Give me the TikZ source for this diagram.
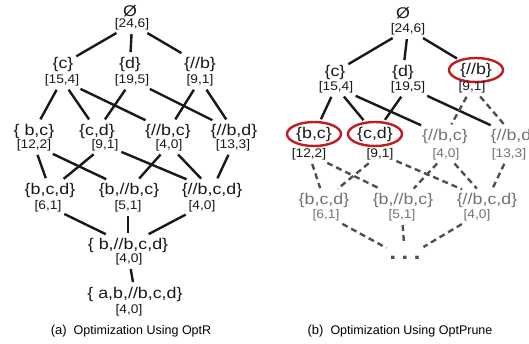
\documentclass[tikz,border=0pt]{standalone}
\usepackage{fontspec}
\setmainfont{Liberation Sans}
\newfontfamily\setfont[FakeStretch=1.15]{Liberation Sans}
\newfontfamily\cntfont[FakeStretch=1.1]{Liberation Sans}
\usetikzlibrary{shapes.geometric}
\definecolor{keepred}{RGB}{190,30,35}
\definecolor{linegray}{RGB}{80,80,80}
\definecolor{prunegray}{RGB}{115,115,115}
\definecolor{ink}{RGB}{25,25,25}

\begin{document}
\begin{tikzpicture}[x=1pt, y=-1pt,
    set/.style = {inner xsep=1pt, inner ysep=2.5pt, text=ink, font=\setfont\fontsize{15.5}{15.5}\selectfont},
    cnt/.style = {inner xsep=1pt, inner ysep=2pt, text=ink, font=\cntfont\fontsize{12.5}{12.5}\selectfont},
    pruned/.style = {text=prunegray},
    kept/.style = {ellipse, draw=keepred, line width=2.4pt, inner sep=0pt, minimum width=54pt, minimum height=24pt},
    edge/.style = {draw=ink, line width=2.4pt, shorten <=2pt, shorten >=2pt},
    cut/.style = {edge, draw=linegray, dash pattern=on 6pt off 4pt}]
    \useasboundingbox (0,0) rectangle (529,343);

    % (a) OptR
    \node[set] (e) at (130,11) {Ø};
    \node[cnt] (en) at (132,24) {[24,6]};
    \node[set] (c) at (63,64) {\{c\}};
    \node[cnt] (cn) at (62,80) {[15,4]};
    \node[set] (d) at (130,64) {\{d\}};
    \node[cnt] (dn) at (132,80) {[19,5]};
    \node[set] (B) at (200,64) {\{//b\}};
    \node[cnt] (Bn) at (200,80) {[9,1]};
    \node[set] (bc) at (34,131) {\{ b,c\}};
    \node[cnt] (bcn) at (34,145) {[12,2]};
    \node[set] (cd) at (97,131) {\{c,d\}};
    \node[cnt] (cdn) at (105,145) {[9,1]};
    \node[set] (Bc) at (168,131) {\{//b,c\}};
    \node[cnt] (Bcn) at (169,145) {[4,0]};
    \node[set] (Bd) at (234,131) {\{//b,d\}};
    \node[cnt] (Bdn) at (233,145) {[13,3]};
    \node[set] (bcd) at (50,190) {\{b,c,d\}};
    \node[cnt] (bcdn) at (48,206) {[6,1]};
    \node[set] (bBc) at (129,190) {\{b,//b,c\}};
    \node[cnt] (bBcn) at (128,206) {[5,1]};
    \node[set] (Bcd) at (212,190) {\{//b,c,d\}};
    \node[cnt] (Bcdn) at (202,206) {[4,0]};
    \node[set] (bBcd) at (128,245) {\{ b,//b,c,d\}};
    \node[cnt] (bBcdn) at (129,259) {[4,0]};
    \node[set] (abBcd) at (135,294) {\{ a,b,//b,c,d\}};
    \node[cnt] (abBcdn) at (129,310) {[4,0]};
    \node (capa) at (131,331) {\fontsize{13}{13}\selectfont(a)\hspace{7pt}\fontsize{12.5}{12.5}\selectfont Optimization Using OptR};

    \draw[edge] (en) -- (c);
    \draw[edge] (en) -- (d);
    \draw[edge] (en) -- (B);
    \draw[edge] (cn) -- (bc);
    \draw[edge] (cn) -- (cd);
    \draw[edge] (cn) -- (Bc);
    \draw[edge] (dn) -- (cd);
    \draw[edge] (dn) -- (Bd);
    \draw[edge] (Bn) -- (Bc);
    \draw[edge] (Bn) -- (Bd);
    \draw[edge] (bcn) -- (bcd);
    \draw[edge] (bcn) -- (bBc);
    \draw[edge] (cdn) -- (bcd);
    \draw[edge] (cdn) -- (Bcd);
    \draw[edge] (Bcn) -- (bBc);
    \draw[edge] (Bcn) -- (Bcd);
    \draw[edge] (Bdn) -- (Bcd);
    \draw[edge] (bcdn) -- (bBcd);
    \draw[edge] (bBcn) -- (bBcd);
    \draw[edge] (Bcdn) -- (bBcd);
    \draw[edge] (bBcdn) -- (abBcd);

    % (b) OptPrune
    \node[set] (re) at (403,13) {Ø};
    \node[cnt] (ren) at (408,29) {[24,6]};
    \node[set] (rc) at (335,72) {\{c\}};
    \node[cnt] (rcn) at (336,87) {[15,4]};
    \node[set] (rd) at (403,72) {\{d\}};
    \node[cnt] (rdn) at (408,87) {[19,5]};
    \node[set, kept] (rB) at (476,70) {\{//b\}};
    \node[cnt] (rBn) at (472,87) {[9,1]};
    \node[set, kept] (rbc) at (314,134) {\{b,c\}};
    \node[cnt] (rbcn) at (309,154) {[12,2]};
    \node[set, kept] (rcd) at (375,134) {\{c,d\}};
    \node[cnt] (rcdn) at (380,154) {[9,1]};
    \node[set, pruned] (rBc) at (445,136) {\{//b,c\}};
    \node[cnt, pruned] (rBcn) at (446,154) {[4,0]};
    \node[set, pruned] (rBd) at (514,136) {\{//b,d\}};
    \node[cnt, pruned] (rBdn) at (509,154) {[13,3]};
    \node[set, pruned] (rbcd) at (324,200) {\{b,c,d\}};
    \node[cnt, pruned] (rbcdn) at (326,215) {[6,1]};
    \node[set, pruned] (rbBc) at (403,200) {\{b,//b,c\}};
    \node[cnt, pruned] (rbBcn) at (402,215) {[5,1]};
    \node[set, pruned] (rBcd) at (487,200) {\{//b,c,d\}};
    \node[cnt, pruned] (rBcdn) at (477,215) {[4,0]};
    \node[set, text=linegray, inner ysep=10pt, font=\setfont\bfseries\fontsize{22}{22}\selectfont] (rdots) at (405,258) {.\hspace{5pt}.\hspace{5pt}.};
    \node (capb) at (400,331) {\fontsize{13}{13}\selectfont(b)\hspace{7pt}\fontsize{12.5}{12.5}\selectfont Optimization Using OptPrune};

    \draw[edge] (ren) -- (rc);
    \draw[edge] (ren) -- (rd);
    \draw[edge] (ren) -- (rB);
    \draw[edge] (rcn) -- (rbc);
    \draw[edge] (rcn) -- (rcd);
    \draw[edge] (rcn) -- (rBc);
    \draw[edge] (rdn) -- (rcd);
    \draw[edge] (rdn) -- (rBd);
    \draw[cut] (rBn) -- (rBc);
    \draw[cut] (rBn) -- (rBd);
    \draw[cut] (rbcn) -- (rbcd);
    \draw[cut] (rbcn) -- (rbBc);
    \draw[cut] (rcdn) -- (rbcd);
    \draw[cut] (rcdn) -- (rBcd);
    \draw[cut] (rBcn) -- (rbBc);
    \draw[cut] (rBcn) -- (rBcd);
    \draw[cut] (rBdn) -- (rBcd);
    \draw[cut] (rbcdn) -- (rdots);
    \draw[cut] (rbBcn) -- (rdots);
    \draw[cut] (rBcdn) -- (rdots);
\end{tikzpicture}
\end{document}
